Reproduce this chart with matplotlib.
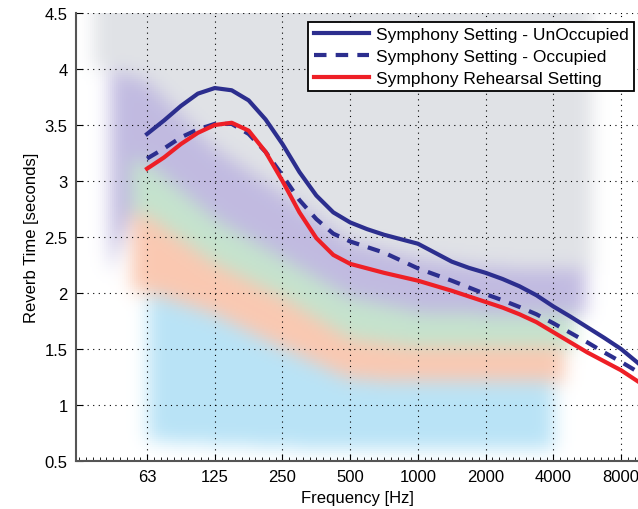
import numpy as np
import matplotlib
matplotlib.use("Agg")
import matplotlib.pyplot as plt
from matplotlib.ticker import FixedLocator, FixedFormatter, NullFormatter

plt.rcParams['font.family'] = ['Liberation Sans', 'DejaVu Sans']

# reverb time curves, read at quarter-octave steps from 63 Hz
freqs = [62.5 * 2 ** (k / 4) for k in range(30)]
unoccupied = [3.42, 3.54, 3.67, 3.78, 3.83, 3.81, 3.72, 3.55, 3.33, 3.08,
              2.87, 2.72, 2.63, 2.57, 2.52, 2.48, 2.44, 2.36, 2.28, 2.225,
              2.18, 2.125, 2.06, 1.98, 1.88, 1.79, 1.695, 1.60, 1.50, 1.375]
occupied = [3.20, 3.29, 3.39, 3.46, 3.51, 3.51, 3.42, 3.26, 3.05, 2.83,
            2.66, 2.53, 2.46, 2.41, 2.36, 2.29, 2.22, 2.165, 2.11, 2.05,
            1.99, 1.935, 1.875, 1.81, 1.73, 1.645, 1.56, 1.47, 1.385, 1.295]
rehearsal = [3.11, 3.21, 3.33, 3.43, 3.50, 3.52, 3.45, 3.26, 3.00, 2.72,
             2.49, 2.34, 2.26, 2.22, 2.18, 2.145, 2.11, 2.065, 2.02, 1.97,
             1.92, 1.87, 1.81, 1.74, 1.65, 1.56, 1.47, 1.39, 1.31, 1.21]

tick_freqs = [62.5, 125, 250, 500, 1000, 2000, 4000, 8000]
tick_labels = ['63', '125', '250', '500', '1000', '2000', '4000', '8000']

# shaded background bands (edges in seconds at these frequencies)
band_f = [40, 63, 125, 250, 500, 1000, 2000, 4000, 8000]
purple_top = [4.0, 3.88, 3.28, 2.88, 2.45, 2.3, 2.22, 2.2, 2.2]
green_top = [3.25, 3.15, 2.65, 2.3, 1.95, 1.82, 1.8, 1.8, 1.8]
orange_top = [2.75, 2.68, 2.25, 1.95, 1.58, 1.5, 1.5, 1.5, 1.5]
blue_top = [2.05, 2.0, 1.8, 1.5, 1.22, 1.2, 1.2, 1.2, 1.2]
blue_bottom = [0.65, 0.68, 0.65, 0.62, 0.6, 0.6, 0.6, 0.6, 0.6]
purple_bottom = [2.0, 3.15, 2.65, 2.3, 1.95, 1.82, 1.8, 1.8, 1.8]
top_line = [4.5] * len(band_f)

xlo, xhi = 30.2, 9514

fig = plt.figure(figsize=(6.38, 5.10), dpi=100)
ax = fig.add_axes([76 / 638, 48 / 510, 562 / 638, 448 / 510])
ax.set_xscale('log', base=2)

# build blurred background picture
nx, ny = 281, 224
ue = np.linspace(np.log2(xlo), np.log2(xhi), nx + 1)
ve = np.linspace(0.5, 4.5, ny + 1)
u = 0.5 * (ue[1:] + ue[:-1])
v = 0.5 * (ve[1:] + ve[:-1])
img = np.ones((ny, nx, 3))
lf = np.log2(band_f)
layers = [
    ((0.878, 0.886, 0.902), top_line, purple_top, 36, 6000),
    ((0.755, 0.730, 0.880), purple_top, purple_bottom, 43, 5600),
    ((0.770, 0.890, 0.805), green_top, orange_top, 54, 4900),
    ((0.980, 0.785, 0.695), orange_top, blue_top, 54, 4500),
    ((0.725, 0.890, 0.965), blue_top, blue_bottom, 63, 4050),
]
for color, top, bot, f0, f1 in layers:
    t = np.interp(u, lf, top)
    b = np.interp(u, lf, bot)
    inside = (v[:, None] <= t[None, :] + 0.01) & (v[:, None] >= b[None, :]) \
        & (u[None, :] >= np.log2(f0)) & (u[None, :] <= np.log2(f1))
    img[inside] = color

sig = 4.5
hw = 14
k = np.arange(-hw, hw + 1)
kern = np.exp(-0.5 * (k / sig) ** 2)
kern /= kern.sum()
pad = np.pad(img, ((hw, hw), (hw, hw), (0, 0)), mode='edge')
for c in range(3):
    ch = pad[:, :, c]
    ch = np.apply_along_axis(lambda r: np.convolve(r, kern, mode='same'), 1, ch)
    ch = np.apply_along_axis(lambda r: np.convolve(r, kern, mode='same'), 0, ch)
    pad[:, :, c] = ch
img = np.clip(pad[hw:-hw, hw:-hw], 0, 1)
ax.pcolormesh(2 ** ue, ve, img, shading='flat', zorder=0)

ax.plot(freqs, unoccupied, color='#2c2e8e', lw=3, solid_joinstyle='round',
        label='Symphony Setting - UnOccupied', zorder=3)
ax.plot(freqs, occupied, color='#2c2e8e', lw=3, dashes=(3.0, 2.2),
        label='Symphony Setting - Occupied', zorder=3)
ax.plot(freqs, rehearsal, color='#ee1f26', lw=3, solid_joinstyle='round',
        label='Symphony Rehearsal Setting', zorder=3)

ax.set_xlim(xlo, xhi)
ax.set_ylim(0.5, 4.5)
ax.xaxis.set_major_locator(FixedLocator(tick_freqs))
ax.xaxis.set_major_formatter(FixedFormatter(tick_labels))
ax.xaxis.set_minor_locator(FixedLocator([62.5 * 2 ** (i / 10) for i in range(-11, 74)]))
ax.xaxis.set_minor_formatter(NullFormatter())
ax.set_yticks(np.arange(0.5, 4.51, 0.5))
ax.set_yticklabels(['0.5', '1', '1.5', '2', '2.5', '3', '3.5', '4', '4.5'])
ax.tick_params(axis='both', which='major', direction='in', length=5, width=0.8, labelsize=12, pad=6)
ax.tick_params(axis='x', which='minor', direction='in', length=3, width=0.6)
ax.grid(True, which='major', color='k', linestyle=(0, (1, 4)), linewidth=0.8)

for s in ['top', 'right']:
    ax.spines[s].set_visible(False)
for s in ['left', 'bottom']:
    ax.spines[s].set_color('#555555')
    ax.spines[s].set_linewidth(1.5)

ax.set_xlabel('Frequency [Hz]', fontsize=12, labelpad=4)
ax.set_ylabel('Reverb Time [seconds]', fontsize=12, labelpad=4)

leg = ax.legend(loc='upper right', bbox_to_anchor=(634 / 638, 1 - 23 / 510), bbox_transform=fig.transFigure,
                borderaxespad=0, fontsize=12.5, handlelength=3.2, handletextpad=0.4, labelspacing=0.38,
                borderpad=0.3, fancybox=False, framealpha=1)
leg.get_frame().set_edgecolor('k')
leg.get_frame().set_linewidth(1.3)

fig.savefig('out.png', dpi=100)
